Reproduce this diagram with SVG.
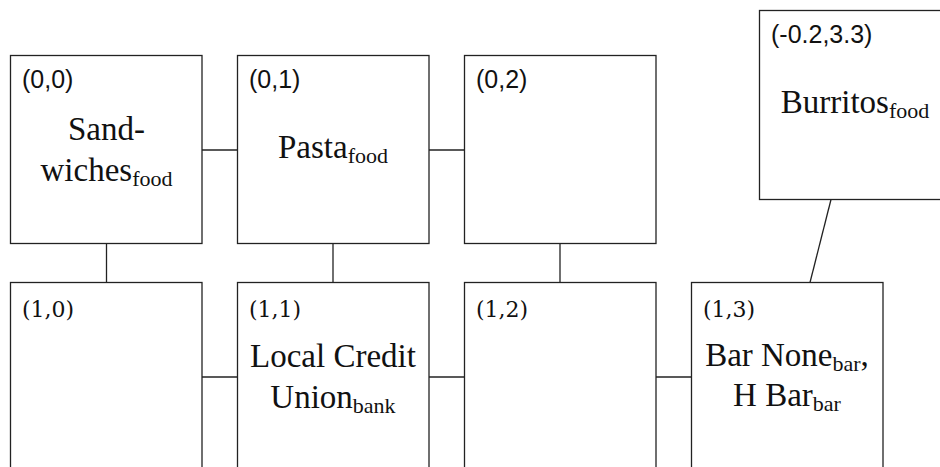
<svg xmlns="http://www.w3.org/2000/svg" width="940" height="467" viewBox="0 0 940 467">
  <style>
    .box { fill: #fff; stroke: #222; stroke-width: 1.3; }
    .conn line { stroke: #222; stroke-width: 1.3; }
    .lab1 { font-family: "Liberation Sans", Arial, sans-serif; font-size: 25px; fill: #111; }
    .lab2 { font-family: "DejaVu Serif", serif; font-size: 22px; fill: #111; }
    .main { font-family: "Liberation Serif", "Times New Roman", serif; font-size: 33px; fill: #111; text-anchor: middle; }
    .sub { font-size: 22px; }
  </style>
  <rect width="940" height="467" fill="#fff"/>
  <g id="connectors" class="conn">
    <line x1="202" y1="150" x2="238" y2="150"/>
    <line x1="429" y1="150" x2="465" y2="150"/>
    <line x1="202" y1="377" x2="238" y2="377"/>
    <line x1="429" y1="377" x2="465" y2="377"/>
    <line x1="656" y1="377" x2="692" y2="377"/>
    <line x1="106.5" y1="244" x2="106.5" y2="282"/>
    <line x1="333" y1="244" x2="333" y2="282"/>
    <line x1="560" y1="244" x2="560" y2="282"/>
    <line x1="831" y1="199.5" x2="810" y2="282.5"/>
  </g>
  <g id="n00">
    <rect class="box" x="10.5" y="55.5" width="191.5" height="188"/>
    <text class="lab1" x="22" y="88">(0,0)</text>
    <text class="main" x="106.5" y="140">Sand-</text>
    <text class="main" x="106.5" y="181">wiches<tspan class="sub" dy="5">food</tspan></text>
  </g>
  <g id="n01">
    <rect class="box" x="237.5" y="55.5" width="191.5" height="188"/>
    <text class="lab1" x="249" y="88">(0,1)</text>
    <text class="main" x="333" y="158">Pasta<tspan class="sub" dy="5">food</tspan></text>
  </g>
  <g id="n02">
    <rect class="box" x="464.5" y="55.5" width="191.5" height="188"/>
    <text class="lab1" x="476" y="88">(0,2)</text>
  </g>
  <g id="nb">
    <rect class="box" x="759.5" y="10.5" width="191.5" height="189"/>
    <text class="lab1" x="771" y="43">(-0.2,3.3)</text>
    <text class="main" x="855" y="113">Burritos<tspan class="sub" dy="5">food</tspan></text>
  </g>
  <g id="n10">
    <rect class="box" x="10.5" y="282.5" width="191.5" height="200"/>
    <text class="lab2" x="22" y="317">(1,0)</text>
  </g>
  <g id="n11">
    <rect class="box" x="237.5" y="282.5" width="191.5" height="200"/>
    <text class="lab2" x="249" y="317">(1,1)</text>
    <text class="main" x="333" y="367">Local Credit</text>
    <text class="main" x="333" y="408">Union<tspan class="sub" dy="5">bank</tspan></text>
  </g>
  <g id="n12">
    <rect class="box" x="464.5" y="282.5" width="191.5" height="200"/>
    <text class="lab2" x="476" y="317">(1,2)</text>
  </g>
  <g id="n13">
    <rect class="box" x="691.5" y="282.5" width="191.5" height="200"/>
    <text class="lab2" x="703" y="317">(1,3)</text>
    <text class="main" x="787" y="366">Bar None<tspan class="sub" dy="5">bar</tspan><tspan dy="-5">,</tspan></text>
    <text class="main" x="787" y="406">H Bar<tspan class="sub" dy="5">bar</tspan></text>
  </g>
</svg>
